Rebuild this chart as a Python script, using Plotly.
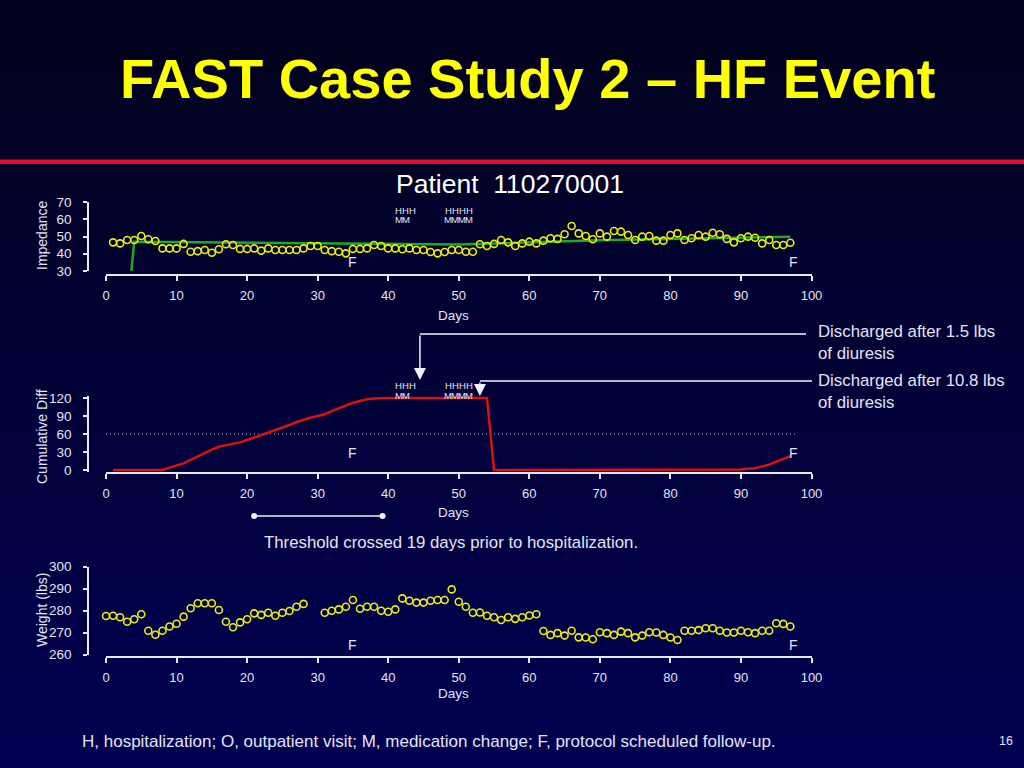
import plotly.graph_objects as go

# ---------------- data ----------------
imp_days = list(range(1, 98))
impedance = [46.6, 46.0, 48.0, 48.0, 50.3, 48.4, 47.4, 43.1, 43.1, 43.1,
             45.7, 41.2, 41.5, 42.2, 40.6, 42.6, 45.5, 45.1, 42.8, 42.8,
             43.1, 41.8, 43.1, 42.2, 42.2, 42.2, 42.2, 43.1, 44.5, 44.5,
             42.2, 41.5, 41.2, 40.2, 42.8, 42.8, 43.1, 45.1, 44.5, 43.1,
             43.1, 42.6, 43.1, 42.2, 42.2, 41.0, 40.2, 41.0, 42.2, 42.2,
             41.2, 41.2, 45.5, 44.5, 45.7, 48.0, 46.6, 44.5, 46.0, 47.0,
             46.0, 47.6, 49.0, 48.6, 51.3, 56.1, 51.8, 50.3, 48.4, 51.8,
             49.9, 53.2, 52.8, 50.9, 48.0, 49.9, 50.3, 47.6, 47.6, 50.9,
             51.8, 48.0, 49.0, 50.9, 49.9, 52.2, 51.3, 48.6, 46.6, 49.0,
             49.9, 49.3, 46.0, 48.0, 45.1, 45.1, 46.4]

ref_days = [3.6, 4.0, 50, 70, 97]
ref_impedance = [30, 47.0, 45.3, 47.8, 49.9]

cum_days = list(range(1, 98))
cum_diff = [0, 0, 0, 0, 0, 0, 0, 0, 4, 8,
            11, 17, 23, 28, 34, 39, 41, 43, 46, 50,
            54, 58, 63, 67, 71, 75, 80, 84, 87, 90,
            93, 98, 103, 108, 112, 115, 118, 119, 120, 120,
            120, 120, 120, 120, 120, 120, 120, 120, 120, 120,
            120, 120, 120, 120, 0, 0, 0, 0, 0, 0,
            0, 0, 0, 0, 0, 0, 0, 0, 0, 0,
            0, 0, 0, 0, 0, 0, 0, 0, 0, 0,
            0, 0, 0, 0, 0, 0, 0, 0, 0, 1,
            2, 3, 6, 9, 14, 18, 23]
threshold = 60
threshold_days = [0, 98]

weight_days = [0, 1, 2, 3, 4, 5, 6, 7, 8, 9, 10, 11, 12, 13, 14, 15, 16, 17, 18, 19,
               20, 21, 22, 23, 24, 25, 26, 27, 28, 31, 32, 33, 34, 35, 36, 37, 38, 39,
               40, 41, 42, 43, 44, 45, 46, 47, 48, 49, 50, 51, 52, 53, 54, 55, 56, 57,
               58, 59, 60, 61, 62, 63, 64, 65, 66, 67, 68, 69, 70, 71, 72, 73, 74, 75,
               76, 77, 78, 79, 80, 81, 82, 83, 84, 85, 86, 87, 88, 89, 90, 91, 92, 93,
               94, 95, 96, 97]
weight = [277.5, 277.6, 276.9, 274.9, 276.0, 278.3, 270.8, 269.0, 270.8, 272.7,
          274.0, 277.2, 281.0, 283.3, 283.3, 283.3, 280.2, 274.9, 272.4, 274.6,
          276.0, 278.7, 278.0, 279.0, 277.6, 279.0, 279.8, 281.7, 283.0,
          279.0, 279.9, 280.5, 281.7, 284.8, 280.8, 281.7, 281.7, 279.9,
          279.4, 280.5, 285.5, 284.4, 283.6, 283.6, 284.4, 284.8, 284.8, 289.6,
          284.0, 281.7, 279.0, 279.1, 277.6, 276.9, 275.7, 276.9, 276.2, 276.9,
          277.7, 278.3, 270.7, 268.9, 269.7, 268.6, 270.8, 267.8, 267.7, 266.9,
          270.1, 269.7, 268.9, 270.4, 269.7, 267.8, 268.6, 270.1, 270.0, 268.9,
          267.7, 266.6, 270.8, 270.8, 271.1, 271.9, 271.9, 270.8, 270.0, 270.0,
          270.8, 270.1, 269.7, 270.8, 270.8, 274.2, 273.9, 272.7]

h_days = [41, 42, 43, 48, 49, 50, 51]
m_days = [41, 42, 48, 49, 50, 51]
f_days = [35, 97.5]
discharge_days = [44.5, 53]
discharge_labels = ["Discharged after 1.5 lbs<br>of diuresis",
                    "Discharged after 10.8 lbs<br>of diuresis"]
cross_day = 21
hosp_day = 40

x_ticks = [0, 10, 20, 30, 40, 50, 60, 70, 80, 90, 100]
imp_ticks = [30, 40, 50, 60, 70]
cum_ticks = [0, 30, 60, 90, 120]
wt_ticks = [260, 270, 280, 290, 300]

# ---------------- layout helpers ----------------
W, H = 1024, 768
def fx(px):
    return px / W
def fy(py):
    return 1 - py / H

X0, X1 = 106, 811.5          # pixel of day 0 and day 100
def day_px(d):
    return X0 + d * (X1 - X0) / 100

TXT = "#e4e4f2"
AX = "#e8e8f6"
YEL = "#ecec10"
FONT = "Liberation Sans, Arial, Helvetica, sans-serif"

fig = go.Figure()

fig.add_trace(go.Scatter(x=ref_days, y=ref_impedance, mode="lines",
                         line=dict(color="#22a822", width=2.5),
                         xaxis="x", yaxis="y", hoverinfo="skip"))
fig.add_trace(go.Scatter(x=imp_days, y=impedance, mode="markers",
                         marker=dict(symbol="circle-open", size=7, color=YEL,
                                     line=dict(width=1.6, color=YEL)),
                         cliponaxis=False, xaxis="x", yaxis="y"))

fig.add_trace(go.Scatter(x=threshold_days, y=[threshold, threshold], mode="lines",
                         line=dict(color="#b8b8cc", width=1, dash="1px,3px"),
                         xaxis="x2", yaxis="y2", hoverinfo="skip"))
fig.add_trace(go.Scatter(x=cum_days, y=cum_diff, mode="lines",
                         line=dict(color="#dd1010", width=2.5),
                         xaxis="x2", yaxis="y2"))

fig.add_trace(go.Scatter(x=weight_days, y=weight, mode="markers",
                         marker=dict(symbol="circle-open", size=7, color=YEL,
                                     line=dict(width=1.6, color=YEL)),
                         cliponaxis=False, xaxis="x3", yaxis="y3"))

def xax(pos_py):
    return dict(domain=[fx(X0), fx(X1)], range=[0, 100], tickvals=x_ticks,
                anchor="free", position=fy(pos_py), showline=True,
                linecolor=AX, linewidth=1.5, ticks="outside", ticklen=5,
                tickwidth=1.5, tickcolor=AX, showgrid=False, zeroline=False,
                tickfont=dict(size=13, color=TXT), ticklabelstandoff=4,
                automargin=False, fixedrange=True)

def yax(top_py, bot_py, rng, ticks):
    return dict(domain=[fy(bot_py), fy(top_py)], range=rng, tickvals=ticks,
                anchor="free", position=fx(88), showline=True,
                linecolor=AX, linewidth=1.5, ticks="outside", ticklen=4,
                tickwidth=1.5, tickcolor=AX, showgrid=False, zeroline=False,
                tickfont=dict(size=13.5, color=TXT), ticklabelstandoff=9,
                automargin=False, fixedrange=True)

shapes = []
# background gradient
N = 64
top_c, bot_c = (2, 2, 28), (0, 0, 82)
for i in range(N):
    t = i / (N - 1)
    c = tuple(round(top_c[k] + (bot_c[k] - top_c[k]) * t) for k in range(3))
    shapes.append(dict(type="rect", xref="paper", yref="paper", x0=0, x1=1,
                       y0=1 - (i + 1) / N - 0.002, y1=1 - i / N,
                       fillcolor="rgb(%d,%d,%d)" % c, line=dict(width=0),
                       layer="below"))
# red rule
shapes.append(dict(type="rect", xref="paper", yref="paper", x0=0, x1=1,
                   y0=fy(164), y1=fy(159.5), fillcolor="#e2102c",
                   line=dict(width=0), layer="below"))

# discharge connector lines
line_rows = [334, 381]
line_ends = [806, 812]
for d, row, end in zip(discharge_days, line_rows, line_ends):
    shapes.append(dict(type="line", xref="paper", yref="paper",
                       x0=fx(day_px(d)), x1=fx(end), y0=fy(row), y1=fy(row),
                       line=dict(color="#f0f0ff", width=1.5)))

# threshold-to-hospitalization bracket
br_row = 516
shapes.append(dict(type="line", xref="x2", yref="paper", x0=cross_day, x1=hosp_day - 0.8,
                   y0=fy(br_row), y1=fy(br_row), line=dict(color="#f0f0ff", width=1.5)))
for d in [cross_day, hosp_day - 0.8]:
    px = day_px(d)
    shapes.append(dict(type="circle", xref="paper", yref="paper",
                       x0=fx(px - 3), x1=fx(px + 3), y0=fy(br_row + 3), y1=fy(br_row - 3),
                       fillcolor="#f0f0ff", line=dict(width=0)))

ann = []
def text_ann(text, x, y, size, color=TXT, xref="paper", xanchor="center", **kw):
    d = dict(text=text, x=x, y=y, xref=xref, yref="paper", showarrow=False,
             xanchor=xanchor, yanchor="middle", font=dict(size=size, color=color))
    d.update(kw)
    ann.append(d)

text_ann("<b>FAST Case Study 2 – HF Event</b>", fx(527), fy(78), 56, "#ffff00")
text_ann("Patient\u00a0\u00a0110270001", fx(510), fy(184), 26.5, "#ffffff")

# event letters (H / M) above impedance and cumulative panels
for xr, h_row, m_row in [("x", 210, 220), ("x2", 385, 395)]:
    for d in h_days:
        text_ann("H", d + 0.5, fy(h_row), 9.5, xref=xr)
    for d in m_days:
        text_ann("M", d + 0.5, fy(m_row), 9.5, xref=xr)

# follow-up markers
for xr, row in [("x", 262), ("x2", 453), ("x3", 645)]:
    for d in f_days:
        text_ann("F", d, fy(row), 14, xref=xr)

# discharge arrows
tips = [380, 396]
for d, tip, row in zip(discharge_days, tips, line_rows):
    ann.append(dict(text="", x=d, y=fy(tip), xref="x2", yref="paper",
                    showarrow=True, ax=0, ay=-(tip - row), arrowhead=2,
                    arrowsize=1.6, arrowwidth=1.5, arrowcolor="#f0f0ff", standoff=0))
for lab, row in zip(discharge_labels, [343, 391]):
    text_ann(lab, fx(816), fy(row), 16.8, xanchor="left", align="left")

text_ann("Threshold crossed %d days prior to hospitalization." % (hosp_day - cross_day),
         fx(451), fy(542), 16.8)

for row in [315, 512, 693]:
    text_ann("Days", fx(453), fy(row), 13.5)

for lab, row in [("Impedance", 236), ("Cumulative Diff", 437), ("Weight (lbs)", 610)]:
    text_ann(lab, fx(42), fy(row), 14, textangle=-90)

text_ann("H, hospitalization; O, outpatient visit; M, medication change; F, protocol scheduled follow-up.",
         fx(429), fy(741), 17)
text_ann("16", fx(1006), fy(741), 12.5)

# initial size leaves room for the default 8px body margin; the post script
# removes that margin and restores the full 1024x768 size
fig.update_layout(
    width=W - 16, height=H - 16, margin=dict(l=0, r=0, t=0, b=0, autoexpand=False),
    paper_bgcolor="#000030", plot_bgcolor="rgba(0,0,0,0)",
    showlegend=False, font=dict(family=FONT, color=TXT),
    xaxis=xax(275), yaxis=yax(202, 271, [30, 70], imp_ticks),
    xaxis2=xax(473), yaxis2=yax(396.2, 471.8, [-3, 123], cum_ticks),
    xaxis3=xax(657), yaxis3=yax(566.5, 654.5, [260, 300], wt_ticks),
    shapes=shapes, annotations=ann,
)

post = ("document.body.style.margin='0px';"
        "document.body.style.background='#00001e';"
        "document.body.style.overflow='hidden';"
        "Plotly.relayout('{plot_id}', {width: %d, height: %d});" % (W, H))

fig.write_html("out.html", config={"displayModeBar": False}, post_script=post)
